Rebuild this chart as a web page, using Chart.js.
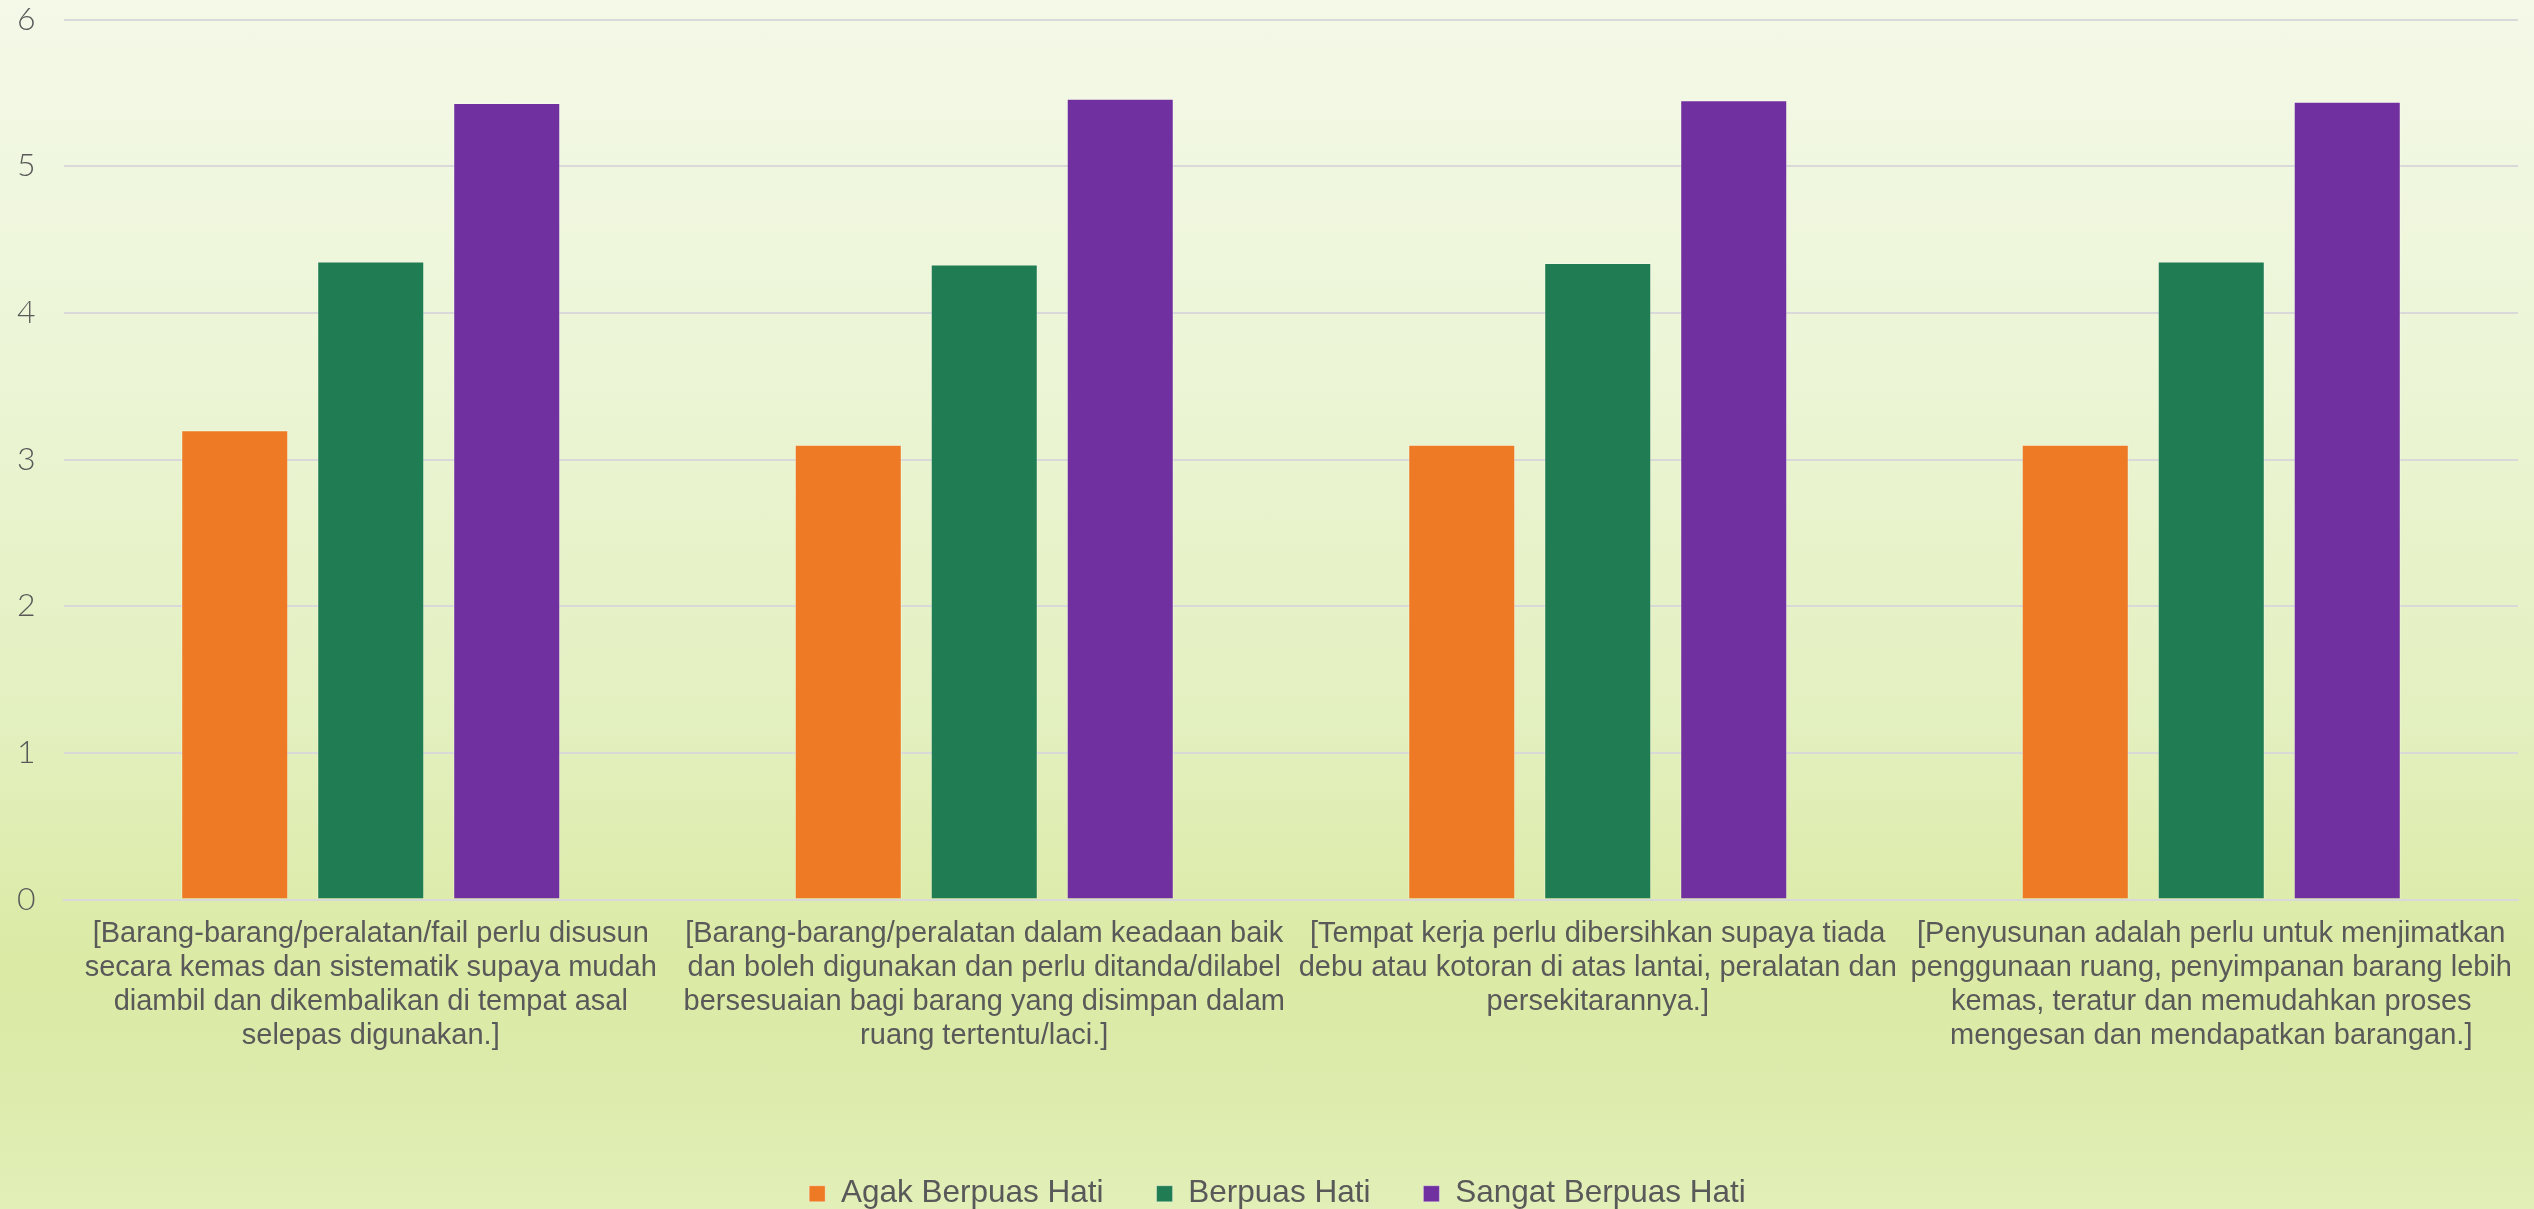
<!DOCTYPE html>
<html>
<head>
<meta charset="utf-8">
<script src="https://cdn.jsdelivr.net/npm/chart.js@4/dist/chart.umd.min.js"></script>
<style>
    html, body { margin: 0; padding: 0; }
    #chart {
        display: block;
        background: linear-gradient(to bottom, #f4f9e8 0%, #ecf5d6 30%, #e3f0bf 60%, #dbeaa4 80%, #dcebaa 88%, #e2efb8 100%);
    }
</style>
</head>
<body>
<canvas id="chart" width="2534" height="1209"></canvas>
<script>
// categories (tick labels, already split into lines like the original)
const categories = [
    ['[Barang-barang/peralatan/fail perlu disusun', 'secara kemas dan sistematik supaya mudah', 'diambil dan dikembalikan di tempat asal', 'selepas digunakan.]'],
    ['[Barang-barang/peralatan dalam keadaan baik', 'dan boleh digunakan dan perlu ditanda/dilabel', 'bersesuaian bagi barang yang disimpan dalam', 'ruang tertentu/laci.]'],
    ['[Tempat kerja perlu dibersihkan supaya tiada', 'debu atau kotoran di atas lantai, peralatan dan', 'persekitarannya.]'],
    ['[Penyusunan adalah perlu untuk menjimatkan', 'penggunaan ruang, penyimpanan barang lebih', 'kemas, teratur dan memudahkan proses', 'mengesan dan mendapatkan barangan.]']
];

const seriesNames = ['Agak Berpuas Hati', 'Berpuas Hati', 'Sangat Berpuas Hati'];
const agakBerpuas = [3.2, 3.1, 3.1, 3.1];
const berpuas = [4.35, 4.33, 4.34, 4.35];
const sangatBerpuas = [5.43, 5.46, 5.45, 5.44];

const yMin = 0;
const yMax = 6;
const yStep = 1;

const colors = ['#ee7a25', '#207c52', '#7030a0'];
const textColor = '#595959';
const gridColor = '#d9d9d9';

// legend sits lower and a bit to the right of where chart.js puts it
const legendHeight = 84;
const legendShift = 10;

const legendFix = {
    id: 'legendFix',
    beforeInit(chart) {
        const origFit = chart.legend.fit;
        chart.legend.fit = function() {
            origFit.bind(chart.legend)();
            this.height = legendHeight;
        };
    },
    afterLayout(chart) {
        chart.legend.left += legendShift;
        chart.legend.right += legendShift;
    }
};

function makeDataset(i, values) {
    return {
        label: seriesNames[i],
        data: values,
        backgroundColor: colors[i],
        borderColor: 'rgba(255,255,255,0.35)',
        borderWidth: 1,
        categoryPercentage: 0.665,
        barPercentage: 0.787
    };
}

const ctx = document.getElementById('chart').getContext('2d');
new Chart(ctx, {
    type: 'bar',
    data: {
        labels: categories,
        datasets: [
            makeDataset(0, agakBerpuas),
            makeDataset(1, berpuas),
            makeDataset(2, sangatBerpuas)
        ]
    },
    plugins: [legendFix],
    options: {
        responsive: false,
        animation: false,
        devicePixelRatio: 1,
        layout: {
            padding: { top: 19.5, right: 16, left: 17, bottom: 0 }
        },
        plugins: {
            tooltip: { enabled: false },
            legend: {
                position: 'bottom',
                labels: {
                    color: textColor,
                    font: { family: "'Liberation Sans', Arial, sans-serif", size: 31.5 },
                    boxWidth: 16,
                    boxHeight: 16,
                    padding: 53
                }
            }
        },
        scales: {
            x: {
                grid: { display: false, drawTicks: false },
                border: { display: true, color: gridColor, width: 2 },
                ticks: {
                    color: textColor,
                    font: { family: "'Liberation Sans', Arial, sans-serif", size: 29, lineHeight: '34px' },
                    padding: 17,
                    autoSkip: false,
                    maxRotation: 0,
                    minRotation: 0
                },
                afterFit(scale) {
                    scale.height = 225.5;
                }
            },
            y: {
                min: yMin,
                max: yMax,
                grid: { color: gridColor, lineWidth: 2, drawTicks: false },
                border: { display: false },
                ticks: {
                    stepSize: yStep,
                    color: textColor,
                    font: { family: "Lato, 'DejaVu Sans', sans-serif", size: 32, weight: 300 },
                    padding: 0,
                    crossAlign: 'far'
                },
                afterFit(scale) {
                    scale.width = 47;
                }
            }
        }
    }
});
</script>
</body>
</html>
